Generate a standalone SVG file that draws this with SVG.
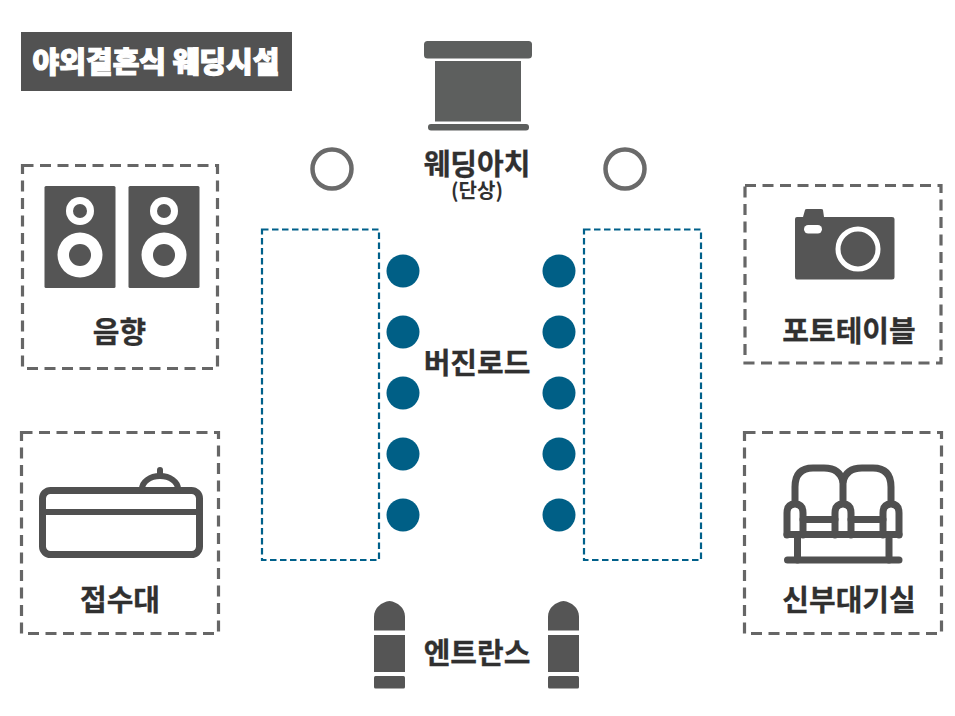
<svg xmlns="http://www.w3.org/2000/svg" width="955" height="716" viewBox="0 0 955 716">
  <style>
    text { font-family: "Noto Sans CJK KR", "Noto Sans", sans-serif; text-anchor: middle; }
    .label { font-size: 29px; font-weight: 700; fill: #303030; stroke: #303030; stroke-width: 0.3px; }
    .small { font-size: 20px; font-weight: 700; fill: #303030; }
    .title { font-size: 29px; font-weight: 900; fill: #fff; stroke: #fff; stroke-width: 1.2px; }
    .zone { fill: none; stroke: #666; stroke-width: 3.2; stroke-dasharray: 11 6.5; }
    .seat { fill: none; stroke: #00608a; stroke-width: 2.2; stroke-dasharray: 6.5 3.5; }
    .solid { fill: #555; }
    .cut { fill: #fff; }
    .line { fill: none; stroke: #505050; stroke-linecap: round; stroke-linejoin: round; }
    .pillar { fill: none; stroke: #6a6a6a; stroke-width: 4.5; }
    .guest { fill: #005f86; }
  </style>
  <defs>
    <g id="speaker">
      <rect class="solid" x="0" y="0" width="71" height="102" rx="1.5"/>
      <circle class="cut" cx="35.5" cy="25" r="14"/>
      <circle class="solid" cx="35.5" cy="25" r="7"/>
      <circle class="cut" cx="35.5" cy="69" r="22.5"/>
      <circle class="solid" cx="35.5" cy="69" r="11"/>
    </g>
    <g id="post">
      <path class="solid" d="M0 29.500V15.500C0 7 7.500 1 15.500 0C23.500 1 31 7 31 15.500V29.500Z"/>
      <rect class="solid" x="0" y="34" width="31" height="37"/>
      <rect class="solid" x="0" y="75" width="31" height="12.500" rx="1.500"/>
    </g>
  </defs>

  <g id="title">
    <rect x="21" y="32" width="271" height="59" fill="#525252"/>
    <text class="title" x="156" y="73">야외결혼식 웨딩시설</text>
  </g>

  <g id="sound">
    <rect class="zone" x="22.500" y="165.500" width="195" height="203"/>
    <use href="#speaker" x="44.500" y="186"/>
    <use href="#speaker" x="128.500" y="186"/>
    <text class="label" x="119.500" y="342.500">음향</text>
  </g>

  <g id="reception">
    <rect class="zone" x="21.500" y="432.500" width="197" height="201"/>
    <rect class="line" x="42.500" y="490.500" width="157" height="64" rx="8" stroke-width="7"/>
    <path class="line" d="M43 512H199" stroke-width="6"/>
    <path class="line" d="M142 489A18 13 0 0 1 178 489" stroke-width="6"/>
    <path class="line" d="M160 470V475" stroke-width="6"/>
    <text class="label" x="120" y="611">접수대</text>
  </g>

  <g id="arch">
    <rect x="424" y="41" width="108" height="17.500" rx="3.500" fill="#5d5f5e"/>
    <rect x="435" y="61" width="86" height="60.500" fill="#5d5f5e"/>
    <rect x="428" y="124" width="101" height="6.500" rx="3" fill="#5d5f5e"/>
    <text class="label" x="477" y="175">웨딩아치</text>
    <text class="small" x="477" y="198">(단상)</text>
  </g>

  <g id="pillar-left"><circle class="pillar" cx="332" cy="169" r="19.500"/></g>
  <g id="pillar-right"><circle class="pillar" cx="625" cy="169" r="19.500"/></g>

  <g id="seats-left"><rect class="seat" x="262" y="229.500" width="117" height="330.500"/></g>
  <g id="seats-right"><rect class="seat" x="584" y="229.500" width="117" height="330.500"/></g>

  <g id="virgin-road">
    <circle class="guest" cx="403" cy="271" r="16.500"/>
    <circle class="guest" cx="403" cy="332" r="16.500"/>
    <circle class="guest" cx="403" cy="393" r="16.500"/>
    <circle class="guest" cx="403" cy="454" r="16.500"/>
    <circle class="guest" cx="403" cy="515" r="16.500"/>
    <circle class="guest" cx="559" cy="271" r="16.500"/>
    <circle class="guest" cx="559" cy="332" r="16.500"/>
    <circle class="guest" cx="559" cy="393" r="16.500"/>
    <circle class="guest" cx="559" cy="454" r="16.500"/>
    <circle class="guest" cx="559" cy="515" r="16.500"/>
    <text class="label" x="477" y="373.500">버진로드</text>
  </g>

  <g id="entrance">
    <use href="#post" x="374" y="601"/>
    <use href="#post" x="548" y="601"/>
    <text class="label" x="477" y="663.500">엔트란스</text>
  </g>

  <g id="photo-table">
    <rect class="zone" x="745" y="185.500" width="196" height="177.500"/>
    <path class="solid" d="M795 219Q795 217 797 217H803L805 210Q805 209 807 209H821Q823 209 823 210L824 217H892Q894.500 217 894.500 219V277Q894.500 279.500 892 279.500H797Q795 279.500 795 277Z"/>
    <rect class="cut" x="804" y="225" width="18" height="8.500" rx="4.200"/>
    <circle cx="858" cy="249" r="20" fill="none" stroke="#fff" stroke-width="5"/>
    <text class="label" x="849" y="342">포토테이블</text>
  </g>

  <g id="bride-room">
    <rect class="zone" x="744.500" y="432.500" width="197" height="201"/>
    <g class="line" stroke-width="7">
      <path d="M795 501V487Q795 468 813 468H824Q840 468 843 482Q846 468 862 468H873Q891 468 891 487V501"/>
      <path d="M843 482V501"/>
      <path d="M787 535V513Q787 504 795 504Q803 504 803 513V535"/>
      <path d="M835 535V513Q835 504 843 504Q851 504 851 513V535"/>
      <path d="M883 535V513Q883 504 891 504Q899 504 899 513V535"/>
      <path d="M803 519.500H835M851 519.500H883"/>
      <path d="M787 534.500H899"/>
      <path d="M797.500 535V560M889 535V560"/>
      <path d="M787.500 560H899"/>
    </g>
    <text class="label" x="849" y="611">신부대기실</text>
  </g>
</svg>
